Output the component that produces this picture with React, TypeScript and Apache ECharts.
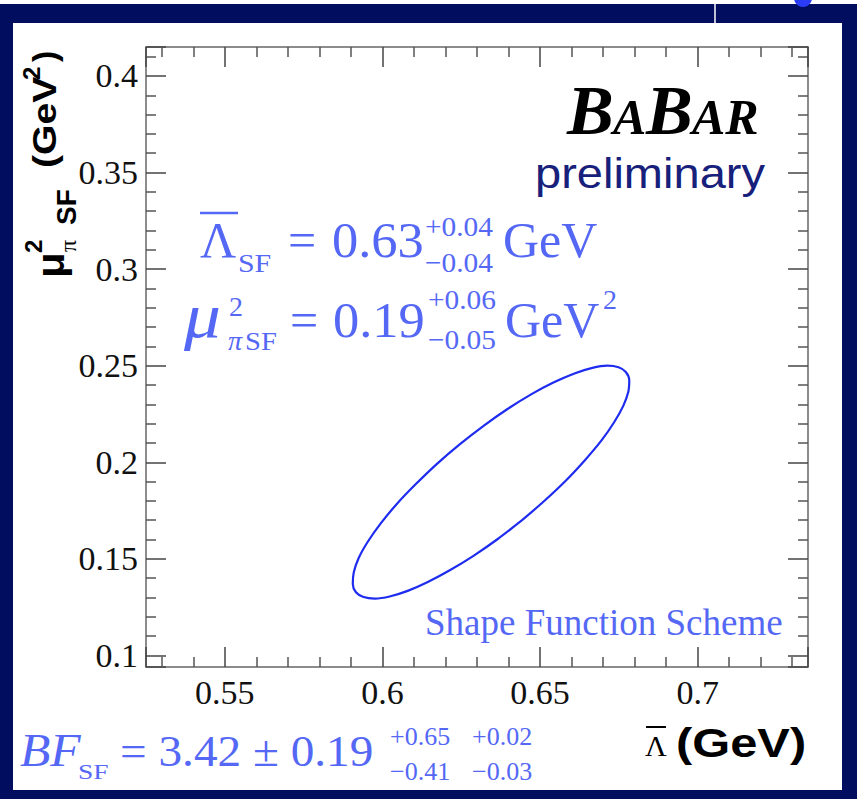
import React, { useEffect, useRef } from 'react';
import * as echarts from 'echarts';

// Axis ranges (GeV, GeV^2)
const xRange = [0.525, 0.735];
const yRange = [0.094, 0.415];

// Contour (Lambda_SF in GeV, mu_pi^2 SF in GeV^2), every 10 degrees round the ellipse
const ellipseX = [
  0.6443, 0.6367, 0.6290, 0.6215, 0.6144, 0.6080, 0.6023, 0.5976, 0.5940, 0.5916,
  0.5906, 0.5909, 0.5924, 0.5953, 0.5994, 0.6045, 0.6106, 0.6173, 0.6246, 0.6322,
  0.6398, 0.6473, 0.6544, 0.6609, 0.6666, 0.6713, 0.6749, 0.6772, 0.6783, 0.6780,
  0.6764, 0.6735, 0.6695, 0.6643, 0.6583, 0.6515, 0.6443,
];
const ellipseY = [
  0.1700, 0.1604, 0.1517, 0.1442, 0.1380, 0.1334, 0.1305, 0.1294, 0.1302, 0.1327,
  0.1370, 0.1429, 0.1502, 0.1587, 0.1682, 0.1783, 0.1887, 0.1992, 0.2094, 0.2190,
  0.2277, 0.2353, 0.2414, 0.2460, 0.2489, 0.2500, 0.2492, 0.2467, 0.2424, 0.2365,
  0.2292, 0.2207, 0.2113, 0.2012, 0.1907, 0.1802, 0.1700,
];

const NAVY = '#010d5f';
const BLUE_TXT = '#5468f5';
const ELL = '#1e2cf0';

type TOpts = { family?: string; weight?: string; style?: string; color?: string; sx?: number; align?: string };

function tx(text: string, x: number, baseline: number, size: number, o: TOpts = {}) {
  return {
    type: 'text',
    x,
    y: baseline - 0.34 * size,
    scaleX: o.sx ?? 1,
    z: 100,
    style: {
      text,
      x: 0,
      y: 0,
      fontSize: size,
      fontFamily: o.family ?? 'Liberation Serif',
      fontWeight: o.weight ?? 'normal',
      fontStyle: o.style ?? 'normal',
      fill: o.color ?? BLUE_TXT,
      textAlign: o.align ?? 'left',
      textVerticalAlign: 'middle',
    },
  };
}

const isMajor = (v: number) => Math.abs(v / 0.05 - Math.round(v / 0.05)) < 1e-6;
const fmt = (v: number) => (isMajor(v) ? String(+v.toFixed(2)) : '');

function axisCommon(show: boolean) {
  return {
    type: 'value',
    splitNumber: 5,
    minInterval: 0.05,
    maxInterval: 0.05,
    axisLine: { show: true, onZero: false, lineStyle: { color: '#666', width: 1.5 } },
    axisTick: { show: true, inside: true, length: 20, lineStyle: { color: '#444', width: 1.5 } },
    minorTick: { show: true, splitNumber: 5, length: 10, lineStyle: { color: '#555', width: 1.5 } },
    splitLine: { show: false },
    minorSplitLine: { show: false },
    axisLabel: {
      show,
      margin: 8,
      fontFamily: 'Liberation Serif',
      fontSize: 34,
      color: '#111',
      showMinLabel: false,
      showMaxLabel: false,
      formatter: fmt,
    },
  };
}

export default function App() {
  const ref = useRef<HTMLDivElement>(null);
  useEffect(() => {
    if (!ref.current) return;
    const chart = echarts.init(ref.current, undefined, { renderer: 'svg' });
    const data = ellipseX.map((x, i) => [x, ellipseY[i]]);
    const K = { family: 'Liberation Sans', weight: 'bold', color: '#000' };

    const yTitle = {
      type: 'group',
      x: 56,
      y: 280,
      rotation: Math.PI / 2,
      z: 100,
      children: [
        tx('μ', 2, 8, 38, { ...K, sx: 1.1 }),
        tx('2', 27, -14, 24, K),
        tx('π', 28, 20, 24, { family: 'Liberation Serif', color: '#000' }),
        tx('SF', 55, 20, 28, K),
        tx('(GeV', 112, 0, 34, { ...K, sx: 1.15 }),
        tx('2', 200, -16, 24, K),
        tx(')', 218, 0, 34, K),
      ],
    };

    const bb = { weight: 'bold', style: 'italic', color: '#000' };

    chart.setOption({
      animation: false,
      backgroundColor: NAVY,
      grid: { left: 146, right: 49, top: 47, bottom: 132, containLabel: false },
      xAxis: [
        { ...axisCommon(true), min: xRange[0], max: xRange[1], position: 'bottom' },
        { ...axisCommon(false), min: xRange[0], max: xRange[1], position: 'top' },
      ],
      yAxis: [
        { ...axisCommon(true), min: yRange[0], max: yRange[1], position: 'left' },
        { ...axisCommon(false), min: yRange[0], max: yRange[1], position: 'right' },
      ],
      series: [
        {
          type: 'line',
          data,
          smooth: 0.3,
          symbol: 'none',
          xAxisIndex: 0,
          yAxisIndex: 0,
          lineStyle: { color: ELL, width: 2.2 },
          z: 5,
        },
      ],
      graphic: [
        { type: 'rect', z: -10, shape: { x: 13, y: 23, width: 829, height: 767 }, style: { fill: '#ffffff' } },
        { type: 'rect', z: -10, shape: { x: 0, y: 0, width: 857, height: 4 }, style: { fill: '#ffffff' } },
        { type: 'line', z: -9, shape: { x1: 715, y1: 4, x2: 715, y2: 23 }, style: { stroke: '#ffffff', lineWidth: 1.5 } },
        { type: 'circle', z: -9, shape: { cx: 803, cy: -2, r: 9 }, style: { fill: '#2a3cf5' } },
        // BaBar logo
        tx('B', 567, 134, 70, bb),
        tx('A', 613, 134, 50, bb),
        tx('B', 646, 134, 70, bb),
        tx('AR', 692, 134, 50, bb),
        tx('preliminary', 535, 188, 42, { family: 'Liberation Sans', color: '#17207a', sx: 1.12 }),
        // Lambda formula
        { type: 'line', z: 100, shape: { x1: 200, y1: 213, x2: 238, y2: 213 }, style: { stroke: BLUE_TXT, lineWidth: 2.5 } },
        tx('Λ', 200, 257, 50),
        tx('SF', 238, 272, 26, { sx: 1.15 }),
        tx('=', 288, 257, 50),
        tx('0.63', 332, 257, 50, { sx: 1.05 }),
        tx('+0.04', 425, 236, 28, { sx: 1.05 }),
        tx('−0.04', 425, 272, 28, { sx: 1.05 }),
        tx('GeV', 503, 257, 50),
        // mu_pi^2 formula
        tx('μ', 184, 337, 64, { style: 'italic', sx: 1.15 }),
        tx('2', 229, 316, 28),
        tx('π', 228, 350, 28, { style: 'italic' }),
        tx('SF', 245, 350, 26, { sx: 1.1 }),
        tx('=', 290, 337, 50),
        tx('0.19', 333, 337, 50, { sx: 1.05 }),
        tx('+0.06', 428, 309, 28, { sx: 1.05 }),
        tx('−0.05', 428, 349, 28, { sx: 1.05 }),
        tx('GeV', 505, 337, 50),
        tx('2', 603, 309, 28),
        // scheme label
        tx('Shape Function Scheme', 425, 635, 37),
        // BF formula
        tx('BF', 20, 766, 46, { style: 'italic', sx: 1.08 }),
        tx('SF', 78, 779, 22, { sx: 1.25 }),
        tx('= 3.42 ± 0.19', 120, 766, 45, { sx: 1.05 }),
        tx('+0.65', 390, 745, 26),
        tx('−0.41', 390, 780, 26),
        tx('+0.02', 472, 745, 26),
        tx('−0.03', 472, 780, 26),
        // x title
        { type: 'line', z: 100, shape: { x1: 646, y1: 727, x2: 666, y2: 727 }, style: { stroke: '#000', lineWidth: 2 } },
        tx('Λ', 645, 756, 30, { color: '#000' }),
        tx('(GeV)', 676, 757, 40, { ...K, sx: 1.22 }),
        yTitle,
      ],
    });
    return () => chart.dispose();
  }, []);
  return <div ref={ref} style={{ position: 'fixed', left: 0, top: 0, width: 857, height: 799 }} />;
}
